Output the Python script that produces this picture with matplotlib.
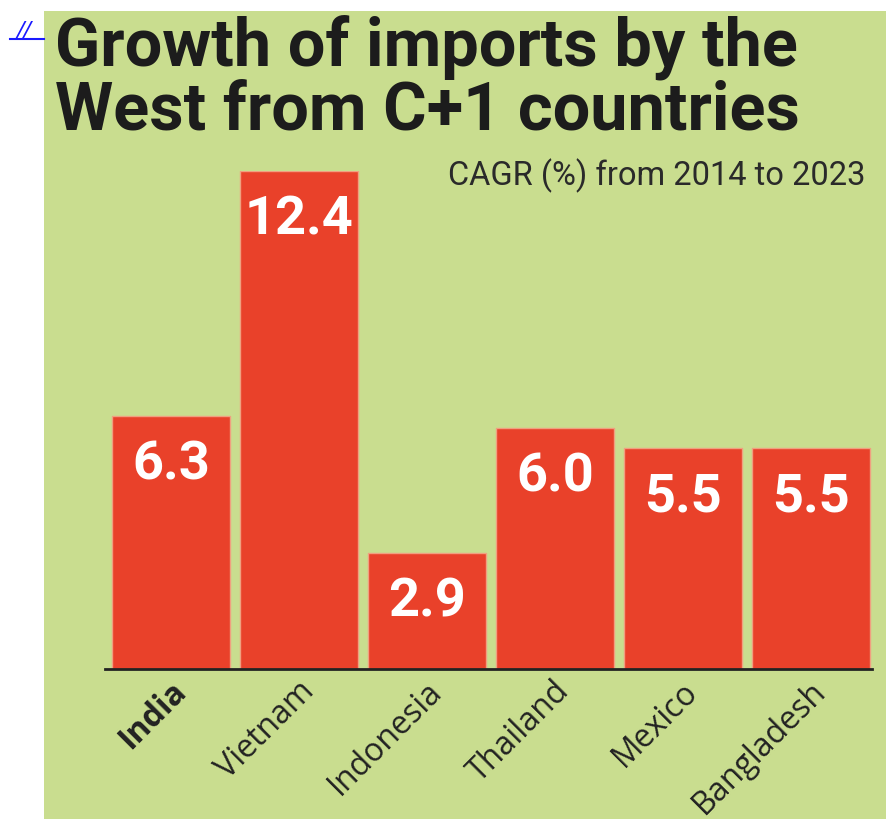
import matplotlib.pyplot as plt
import matplotlib.transforms as mtransforms
from matplotlib.patches import Rectangle
from matplotlib.lines import Line2D

# data
countries = ['India', 'Vietnam', 'Indonesia', 'Thailand', 'Mexico', 'Bangladesh']
cagr = [6.3, 12.4, 2.9, 6.0, 5.5, 5.5]
value_labels = ['6.3', '12.4', '2.9', '6.0', '5.5', '5.5']

title = 'Growth of imports by the\nWest from C+1 countries'
subtitle = 'CAGR (%) from 2014 to 2023'

panel_color = '#c9dd8f'
bar_color = '#e9412a'

fig = plt.figure(figsize=(8.87, 8.20), dpi=100)
fig.patch.set_facecolor('white')

# green panel behind everything
fig.patches.append(Rectangle((44 / 887, 0), 1 - 44 / 887, 1 - 12 / 820,
                             transform=fig.transFigure, facecolor=panel_color,
                             edgecolor='none', zorder=-5))

# little blue link marker on the left
fig.text(17 / 887, 1 - 30 / 820, '//', color='#1a1aff', fontsize=16,
         family='DejaVu Sans', style='italic', va='center', ha='left')
fig.lines.append(Line2D([10 / 887, 44 / 887], [1 - 40 / 820, 1 - 40 / 820],
                        transform=fig.transFigure, color='#1a1aff', lw=1.5))

fig.text(55 / 887, 1 - 14 / 820, title, fontsize=48, fontweight='bold',
         family='Roboto', color='#1c1c1c', va='top', ha='left',
         linespacing=1.0)
fig.text(866 / 887, 1 - 176 / 820, subtitle, fontsize=23.5, family='Roboto',
         color='#2a2a2a', va='center', ha='right')

ax = fig.add_axes([105 / 887, 150 / 820, 767 / 887, 498 / 820])
ax.set_facecolor('none')
x = list(range(len(countries)))
ax.bar(x, cagr, width=0.92, color=bar_color, edgecolor='#f0a080',
       linewidth=1.0, zorder=2)
ax.set_xlim(-0.516, 5.477)
ax.set_ylim(0, 12.4)

for xi, v, lab in zip(x, cagr, value_labels):
    ax.annotate(lab, (xi, v), xytext=(0, -48), textcoords='offset pixels',
                ha='center', va='center', color='white', fontsize=39,
                fontweight='bold', family='Roboto', zorder=3)

for s in ['top', 'right', 'left']:
    ax.spines[s].set_visible(False)
ax.spines['bottom'].set_color('#222222')
ax.spines['bottom'].set_linewidth(2)
ax.spines['bottom'].set_zorder(4)
ax.set_yticks([])
ax.set_xticks(x)
ax.set_xticklabels(countries, rotation=45, ha='right', va='center',
                   rotation_mode='anchor', fontsize=23, family='Open Sans',
                   color='#222222')
ax.tick_params(axis='x', length=0, pad=12)
ax.get_xticklabels()[0].set_fontweight('bold')

# nudge the rotated labels a little to the right
shift = mtransforms.ScaledTranslation(10 / 100, 0, fig.dpi_scale_trans)
for lbl in ax.get_xticklabels():
    lbl.set_transform(lbl.get_transform() + shift)

plt.savefig('out.png', dpi=100)
